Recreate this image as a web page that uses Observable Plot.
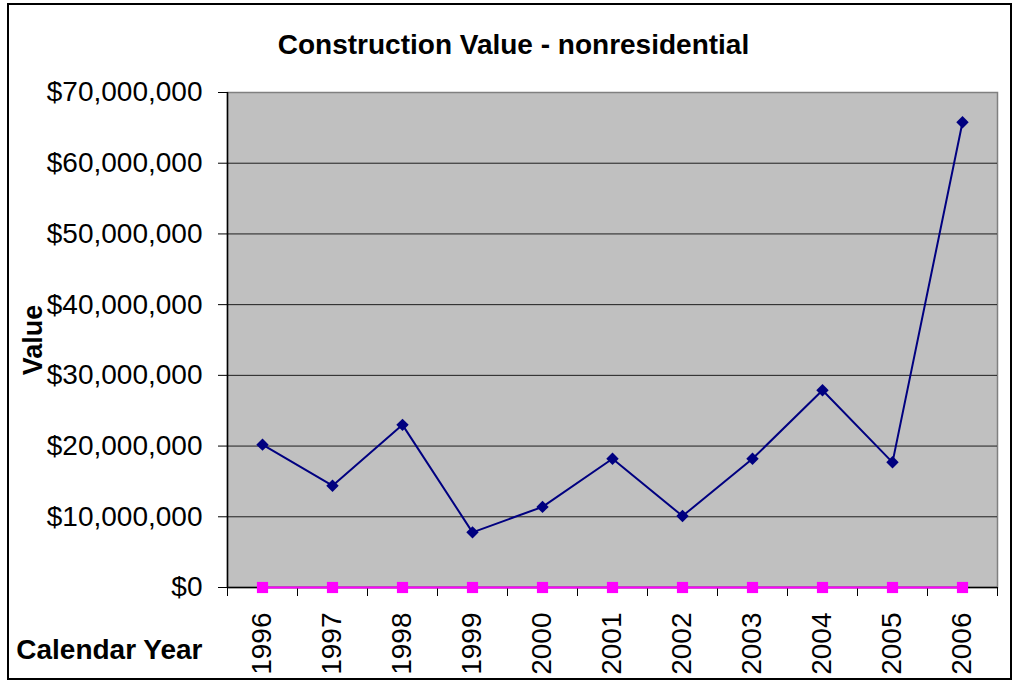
<!DOCTYPE html>
<html>
<head>
<meta charset="utf-8">
<script src="https://cdn.jsdelivr.net/npm/d3@7"></script>
<script src="https://cdn.jsdelivr.net/npm/@observablehq/plot@0.6"></script>
<style>
  html, body { margin: 0; padding: 0; background: #fff; }
  #wrap { position: relative; width: 1013px; height: 681px; }
  #border { position: absolute; left: 7px; top: 3px; width: 1005px; height: 677px; border: 2px solid #000; box-sizing: border-box; pointer-events: none; }
  svg { display: block; }
</style>
</head>
<body>
<div id="wrap"><div id="border"></div></div>
<script>
const title = "Construction Value - nonresidential";
const xTitle = "Calendar Year";
const yTitle = "Value";
const years = ["1996","1997","1998","1999","2000","2001","2002","2003","2004","2005","2006"];
const nonresidential = [20200000, 14400000, 23000000, 7800000, 11400000, 18200000, 10100000, 18200000, 27900000, 17700000, 65800000];
const secondSeries = [0, 0, 0, 0, 0, 0, 0, 0, 0, 0, 0];
const yTicks = [0, 10000000, 20000000, 30000000, 40000000, 50000000, 60000000, 70000000];

const s1 = years.map((year, i) => ({year, value: nonresidential[i]}));
const s2 = years.map((year, i) => ({year, value: secondSeries[i]}));

const W = 1013, H = 681, mL = 227, mR = 16, mT = 92, mB = 94;
const step = (W - mL - mR) / years.length;
const fmt = d => "$" + d3.format(",")(d);

const chart = Plot.plot({
  width: W, height: H,
  marginLeft: mL, marginRight: mR, marginTop: mT, marginBottom: mB,
  style: {fontFamily: "'Liberation Sans', Arial, sans-serif", background: "transparent", color: "#000"},
  x: {type: "point", domain: years, padding: 0.5},
  y: {domain: [0, 70000000]},
  marks: [
    Plot.frame({fill: "#c0c0c0", stroke: "#808080", strokeWidth: 1.5}),
    Plot.gridY(yTicks.filter(d => d > 0 && d < 70000000), {stroke: "#000", strokeOpacity: 0.85, strokeWidth: 1}),
    Plot.axisY(yTicks, {tickFormat: fmt, tickSize: 9, tickPadding: 16, fontSize: 28, label: null, stroke: "#000"}),
    Plot.axisX({tickRotate: -90, tickSize: 0, tickPadding: 25, fontSize: 28, label: null}),
    Plot.ruleX(years, {y1: 0, y2: 0, dx: -step / 2, insetBottom: -9, stroke: "#000"}),
    Plot.ruleX([years[years.length - 1]], {y1: 0, y2: 0, dx: step / 2, insetBottom: -9, stroke: "#000"}),
    Plot.ruleY([0], {stroke: "#000", strokeWidth: 1.5}),
    Plot.ruleX([years[0]], {dx: -step / 2, stroke: "#000", strokeWidth: 1.5}),
    Plot.line(s2, {x: "year", y: "value", stroke: "#ff00ff", strokeWidth: 2}),
    Plot.dot(s2, {x: "year", y: "value", symbol: "square", r: 6.3, fill: "#ff00ff", stroke: "none"}),
    Plot.line(s1, {x: "year", y: "value", stroke: "#000080", strokeWidth: 2}),
    Plot.dot(s1, {x: "year", y: "value", symbol: "diamond2", r: 5.6, fill: "#000080", stroke: "none"}),
    Plot.text([title], {frameAnchor: "top", lineAnchor: "middle", dx: -99, dy: -47, fontSize: 28, fontWeight: "bold", textAnchor: "middle"}),
    Plot.text([yTitle], {frameAnchor: "left", lineAnchor: "middle", dx: -194, rotate: -90, fontSize: 27, fontWeight: "bold", textAnchor: "middle"}),
    Plot.text([xTitle], {frameAnchor: "bottom-left", lineAnchor: "middle", dx: -25, dy: 63, fontSize: 28, fontWeight: "bold", textAnchor: "end"})
  ]
});
document.getElementById("wrap").prepend(chart);
</script>
</body>
</html>
